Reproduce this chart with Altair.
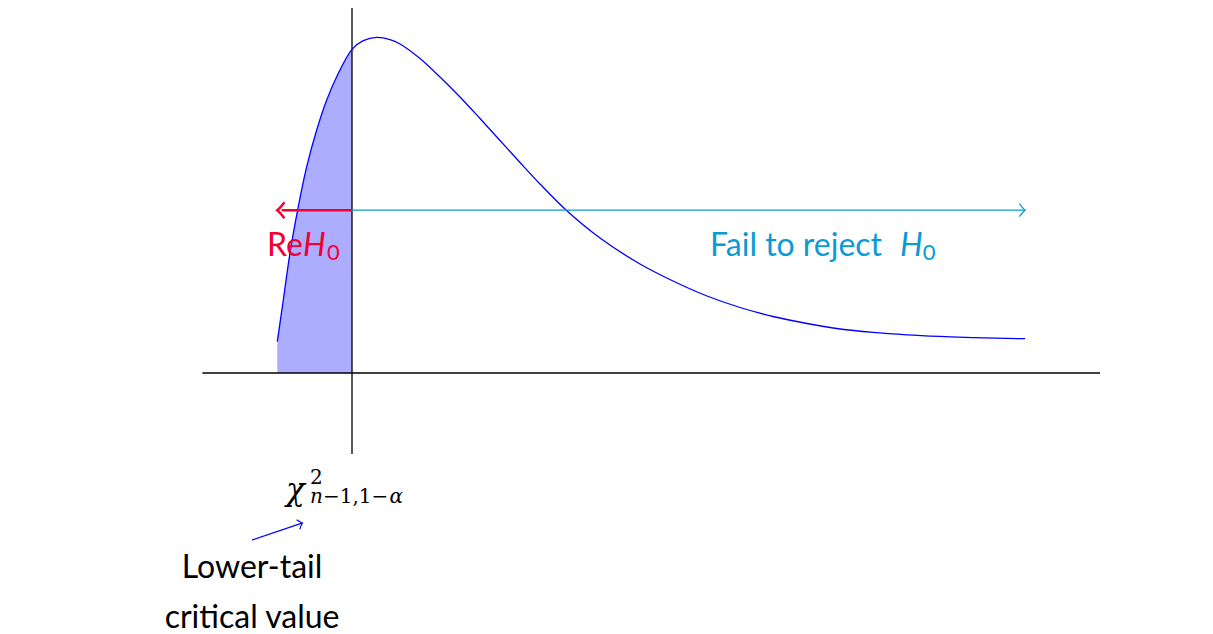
import altair as alt
import pandas as pd

# ---- data (in diagram units) ----
curve_x = [-0.4993, -0.4592, -0.4144, -0.3590, -0.3028, -0.2360, -0.1691, -0.1023, 0.0,
           0.0755, 0.1651, 0.2540, 0.3209, 0.4545, 0.5882, 0.7219, 0.8556, 0.9893,
           1.1230, 1.2567, 1.4305, 1.6578, 1.9251, 2.1457, 2.3730, 2.5936, 2.8142,
           3.0414, 3.2620, 3.4826, 3.7099, 3.9305, 4.1511, 4.4987]
curve_y = [0.1932, 0.4506, 0.7407, 1.0265, 1.2735, 1.5000, 1.6852, 1.8290, 1.9981,
           2.0512, 2.0722, 2.0586, 2.0309, 1.9414, 1.8272, 1.7037, 1.5710, 1.4352,
           1.2994, 1.1667, 1.0062, 0.8333, 0.6728, 0.5679, 0.4753, 0.4043, 0.3488,
           0.3056, 0.2716, 0.2506, 0.2358, 0.2259, 0.2185, 0.2117]

critical_value = 0.0
left_end = -0.5
right_end = 4.5
arrow_level = 1.005

# ---- layout constants ----
W, H = 1197, 626
PX_X0, UX = 352, 149.6
PX_Y0, UY = 373, 162
xdom = [(8 - PX_X0) / UX, (8 + W - PX_X0) / UX]
ydom = [(PX_Y0 - 8 - H) / UY, (PX_Y0 - 8) / UY]
xs = alt.Scale(domain=xdom, nice=False, zero=False)
ys = alt.Scale(domain=ydom, nice=False, zero=False)

FONT = "Lato"
MATH = "DejaVu Serif"
RED = "#f4002f"
CYAN = "#0a9ad4"
BLUE = "#0000ff"

curve = pd.DataFrame({"x": curve_x, "y": curve_y})
shade = curve[curve["x"] <= critical_value + 1e-9].copy()
shade["y0"] = 0.0


def X(f="x"):
    return alt.X(f"{f}:Q", scale=xs, axis=None)


def Y(f="y"):
    return alt.Y(f"{f}:Q", scale=ys, axis=None)


area = alt.Chart(shade).mark_area(color="#adadff", opacity=1, interpolate="catmull-rom").encode(
    x=X(), y=Y(), y2=alt.Y2("y0:Q"))

axes_df = pd.DataFrame({
    "x": [-1.0, 0.0], "x2": [5.0, 0.0],
    "y": [0.0, -0.5], "y2": [0.0, 2.253],
})
axes = alt.Chart(axes_df).mark_rule(color="black", strokeWidth=1.3).encode(
    x=X(), x2="x2:Q", y=Y(), y2="y2:Q")

line = alt.Chart(curve).mark_line(color=BLUE, strokeWidth=1.3, interpolate="catmull-rom").encode(
    x=X(), y=Y())

shafts_df = pd.DataFrame({
    "x": [critical_value, critical_value, -0.668],
    "x2": [left_end + 0.03, right_end, -0.335],
    "y": [arrow_level, arrow_level, -1.031],
    "y2": [arrow_level, arrow_level, -0.926],
    "c": [RED, CYAN, BLUE],
    "w": [2.6, 1.3, 1.3],
})
shafts = alt.Chart(shafts_df).mark_rule().encode(
    x=X(), x2="x2:Q", y=Y(), y2="y2:Q",
    color=alt.Color("c:N", scale=None),
    strokeWidth=alt.StrokeWidth("w:Q", scale=None))

heads_df = pd.DataFrame({
    "x": [left_end, right_end, -0.331],
    "y": [arrow_level, arrow_level, -0.926],
    "angle": [180, 0, 341],
    "c": [RED, CYAN, BLUE],
    "s": [256, 170, 100],
    "w": [2.4, 1.2, 1.2],
})
heads = alt.Chart(heads_df).mark_point(
    shape="M -0.9 -1 Q -0.35 -0.25 0 0 Q -0.35 0.25 -0.9 1",
    filled=False, opacity=1).encode(
    x=X(), y=Y(),
    angle=alt.Angle("angle:Q", scale=None),
    color=alt.Color("c:N", scale=None),
    size=alt.Size("s:Q", scale=None),
    strokeWidth=alt.StrokeWidth("w:Q", scale=None))


def text_layer(df, style="normal", align="left", font=FONT):
    return alt.Chart(pd.DataFrame(df)).mark_text(
        font=font, fontStyle=style, align=align, baseline="alphabetic").encode(
        x=X(), y=Y(), text="t:N",
        color=alt.Color("c:N", scale=None),
        size=alt.Size("s:Q", scale=None))


t_upright = text_layer({
    "t": ["Re", "Fail to reject", "0", "0"],
    "x": [-0.568, 2.393, -0.167, 3.816],
    "y": [0.722, 0.722, 0.698, 0.698],
    "c": [RED, CYAN, RED, CYAN],
    "s": [32, 32, 22, 22],
})
t_italic = text_layer({
    "t": ["H", "H"],
    "x": [-0.328, 3.663],
    "y": [0.722, 0.722],
    "c": [RED, CYAN],
    "s": [32, 32],
}, style="italic")
m_upright = text_layer({
    "t": ["2", "−1,1−"],
    "x": [-0.281, -0.194],
    "y": [-0.685, -0.802],
    "c": ["black", "black"],
    "s": [20, 20],
}, font=MATH)
m_italic = text_layer({
    "t": ["χ", "n", "α"],
    "x": [-0.441, -0.281, 0.250],
    "y": [-0.784, -0.802, -0.802],
    "c": ["black", "black", "black"],
    "s": [31, 20, 20],
}, style="italic", font=MATH)
t_center = text_layer({
    "t": ["Lower-tail", "critical value"],
    "x": [-0.668, -0.668],
    "y": [-1.265, -1.574],
    "c": ["black", "black"],
    "s": [32, 32],
}, align="center")

chart = alt.layer(area, axes, line, shafts, heads, t_upright, t_italic,
                  m_upright, m_italic, t_center).properties(
    width=W, height=H, padding=0, autosize=alt.AutoSizeParams(type="none"),
    background="white",
).configure_view(stroke=None)

chart.save("out.html", embed_options={"renderer": "svg", "actions": False})
